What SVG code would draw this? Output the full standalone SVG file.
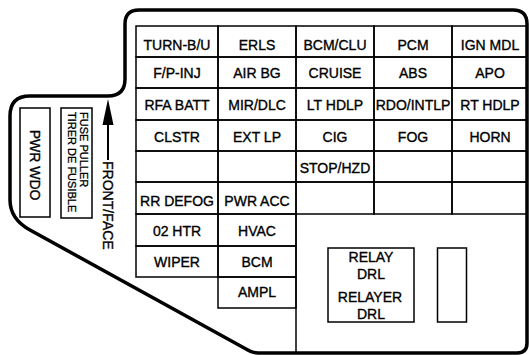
<svg xmlns="http://www.w3.org/2000/svg" width="529" height="355" viewBox="0 0 529 355">
<style>
text{font-family:"Liberation Sans",Arial,sans-serif;font-size:14px;fill:#000;stroke:#000;stroke-width:0.35;text-anchor:middle}
.cell rect{fill:none;stroke:#000;stroke-width:1.5}
.box{fill:none;stroke:#000;stroke-width:1.5}
.small{font-size:11px;text-anchor:start;stroke-width:0.3}
</style>
<rect width="529" height="355" fill="#fff"/>
<path id="frame" d="M125,24 Q125,10 139,10 L513,10 Q527,10 527,24 L527,343 Q527,353 517,353 L258,353 Q252,353 246,349 L30,230 Q10,219 10,200 L10,116 Q10,96 30,96 L108,96 Q125,96 125,79 Z" fill="none" stroke="#000" stroke-width="3.5" stroke-linejoin="round"/>
<g id="cells">
<g id="c11" class="cell"><rect x="136" y="26" width="82" height="31"/><text x="177" y="49.5">TURN-B/U</text></g>
<g id="c12" class="cell"><rect x="218" y="26" width="78" height="31"/><text x="257" y="49.5">ERLS</text></g>
<g id="c13" class="cell"><rect x="296" y="26" width="78" height="31"/><text x="335" y="49.5">BCM/CLU</text></g>
<g id="c14" class="cell"><rect x="374" y="26" width="78" height="31"/><text x="413" y="49.5">PCM</text></g>
<g id="c15" class="cell"><rect x="452" y="26" width="75" height="31"/><text x="490" y="49.5">IGN MDL</text></g>
<g id="c21" class="cell"><rect x="136" y="57" width="82" height="31"/><text x="177" y="78">F/P-INJ</text></g>
<g id="c22" class="cell"><rect x="218" y="57" width="78" height="31"/><text x="257" y="78">AIR BG</text></g>
<g id="c23" class="cell"><rect x="296" y="57" width="78" height="31"/><text x="335" y="78">CRUISE</text></g>
<g id="c24" class="cell"><rect x="374" y="57" width="78" height="31"/><text x="413" y="78">ABS</text></g>
<g id="c25" class="cell"><rect x="452" y="57" width="75" height="31"/><text x="490" y="78">APO</text></g>
<g id="c31" class="cell"><rect x="136" y="88" width="82" height="32"/><text x="177" y="110">RFA BATT</text></g>
<g id="c32" class="cell"><rect x="218" y="88" width="78" height="32"/><text x="257" y="110">MIR/DLC</text></g>
<g id="c33" class="cell"><rect x="296" y="88" width="78" height="32"/><text x="335" y="110">LT HDLP</text></g>
<g id="c34" class="cell"><rect x="374" y="88" width="78" height="32"/><text x="413" y="110">RDO/INTLP</text></g>
<g id="c35" class="cell"><rect x="452" y="88" width="75" height="32"/><text x="490" y="110">RT HDLP</text></g>
<g id="c41" class="cell"><rect x="136" y="120" width="82" height="31"/><text x="177" y="142">CLSTR</text></g>
<g id="c42" class="cell"><rect x="218" y="120" width="78" height="31"/><text x="257" y="142">EXT LP</text></g>
<g id="c43" class="cell"><rect x="296" y="120" width="78" height="31"/><text x="335" y="142">CIG</text></g>
<g id="c44" class="cell"><rect x="374" y="120" width="78" height="31"/><text x="413" y="142">FOG</text></g>
<g id="c45" class="cell"><rect x="452" y="120" width="75" height="31"/><text x="490" y="142">HORN</text></g>
<g id="c51" class="cell"><rect x="136" y="151" width="82" height="31"/></g>
<g id="c52" class="cell"><rect x="218" y="151" width="78" height="31"/></g>
<g id="c53" class="cell"><rect x="296" y="151" width="78" height="31"/><text x="335" y="173">STOP/HZD</text></g>
<g id="c54" class="cell"><rect x="374" y="151" width="78" height="31"/></g>
<g id="c55" class="cell"><rect x="452" y="151" width="75" height="31"/></g>
<g id="c61" class="cell"><rect x="136" y="182" width="82" height="32"/><text x="177" y="206">RR DEFOG</text></g>
<g id="c62" class="cell"><rect x="218" y="182" width="78" height="32"/><text x="257" y="206">PWR ACC</text></g>
<g id="c63" class="cell"><rect x="296" y="182" width="78" height="32"/></g>
<g id="c64" class="cell"><rect x="374" y="182" width="78" height="32"/></g>
<g id="c65" class="cell"><rect x="452" y="182" width="75" height="32"/></g>
<g id="c71" class="cell"><rect x="136" y="214" width="82" height="32"/><text x="177" y="235.5">02 HTR</text></g>
<g id="c72" class="cell"><rect x="218" y="214" width="78" height="32"/><text x="257" y="235.5">HVAC</text></g>
<g id="c81" class="cell"><rect x="136" y="246" width="82" height="31"/><text x="177" y="267">WIPER</text></g>
<g id="c82" class="cell"><rect x="218" y="246" width="78" height="31"/><text x="257" y="267">BCM</text></g>
<g id="c92" class="cell"><rect x="218" y="277" width="78" height="31"/><text x="257" y="296.5">AMPL</text></g>
</g>
<g id="divider"><line x1="296" y1="214" x2="296" y2="353" stroke="#000" stroke-width="1.5"/></g>
<g id="relay"><rect class="box" x="328" y="248" width="86" height="74"/>
<text x="371" y="262">RELAY</text><text x="371" y="279">DRL</text><text x="370" y="302">RELAYER</text><text x="371" y="318.5">DRL</text></g>
<g id="relay2"><rect class="box" x="437.5" y="248" width="29" height="74"/></g>
<g id="pwrwdo"><rect class="box" x="20" y="108" width="30" height="109"/>
<text transform="translate(35,165) rotate(90)" y="5">PWR WDO</text></g>
<g id="fusepuller"><rect class="box" x="61" y="108" width="31" height="110"/>
<text class="small" transform="rotate(90)" x="112" y="-80">FUSE PULLER</text>
<text class="small" transform="rotate(90)" x="112" y="-68">TIRER DE FUSIBLE</text></g>
<g id="front">
<line x1="108" y1="122" x2="108" y2="160" stroke="#000" stroke-width="2"/>
<polygon points="108,99 102.5,125 113.5,125" fill="#000"/>
<text transform="rotate(90)" x="161" y="-103" style="text-anchor:start">FRONT/FACE</text>
</g>
</svg>
